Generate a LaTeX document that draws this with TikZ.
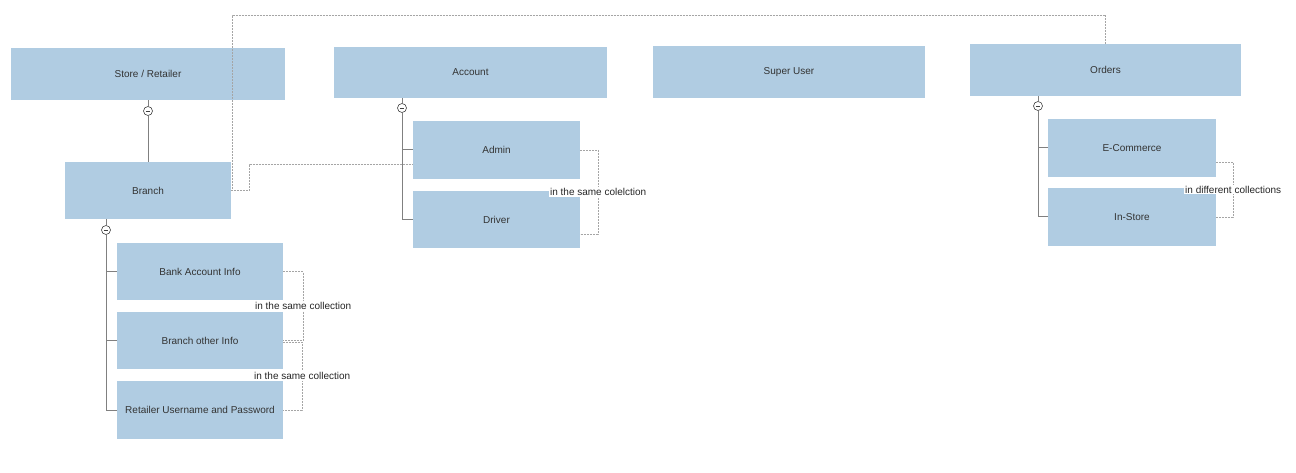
\documentclass[tikz,border=0pt]{standalone}
\usepackage{fontspec}
\setmainfont{Liberation Sans}
\usetikzlibrary{calc}
\definecolor{boxblue}{RGB}{176,204,226}
\definecolor{txt}{RGB}{51,51,51}
\definecolor{treeline}{RGB}{128,128,128}
\definecolor{linkgray}{RGB}{165,165,165}
\begin{document}
\begin{tikzpicture}[x=1pt,y=-1pt,
  box/.style={fill=boxblue,draw=none,inner sep=0pt,text=txt,font=\fontsize{10}{12}\selectfont},
  toggle/.style={circle,draw=black!75,fill=white,line width=0.6pt,minimum size=9pt,inner sep=0pt,
    path picture={\draw[black!75,line width=0.6pt]
      ([xshift=-2.3pt]path picture bounding box.center) -- ([xshift=2.3pt]path picture bounding box.center);}},
  tree/.style={draw=treeline,line width=1pt},
  link/.style={draw=linkgray,line width=0.7pt,dash pattern=on 2pt off 1pt},
  note/.style={fill=white,inner sep=1pt,text=black!85,font=\fontsize{10}{12}\selectfont}]
\useasboundingbox (0,0) rectangle (1296,473);

% top-level entities
\node[box,minimum width=274pt,minimum height=52pt] (store) at (148,74) {Store / Retailer};
\node[box,minimum width=273pt,minimum height=51pt] (account) at (470.5,72.5) {Account};
\node[box,minimum width=272pt,minimum height=52pt] (super) at (789,72) {Super User};
\node[box,minimum width=271pt,minimum height=52pt] (orders) at (1105.5,70) {Orders};

% children
\node[box,minimum width=166pt,minimum height=57pt] (branch) at (148,190.5) {Branch};
\node[box,minimum width=167pt,minimum height=58pt] (admin) at (496.5,150) {Admin};
\node[box,minimum width=167pt,minimum height=57pt] (driver) at (496.5,219.5) {Driver};
\node[box,minimum width=168pt,minimum height=58pt] (ecom) at (1132,148) {E-Commerce};
\node[box,minimum width=168pt,minimum height=58pt] (instore) at (1132,217) {In-Store};
\node[box,minimum width=166pt,minimum height=57pt] (bank) at (200,271.5) {Bank Account Info};
\node[box,minimum width=166pt,minimum height=57pt] (other) at (200,340.5) {Branch other Info};
\node[box,minimum width=166pt,minimum height=58pt] (login) at (200,410) {Retailer Username and Password};

% tree connectors with collapse toggles
\node[toggle] (t1) at (148,111) {};
\draw[tree] (store.south) -- (t1) -- (branch.north);

\node[toggle] (t2) at (106,230) {};
\draw[tree] (branch.south -| t2) -- (t2);
\draw[tree] (t2) |- (login.west);
\draw[tree] (t2 |- bank.west) -- (bank.west);
\draw[tree] (t2 |- other.west) -- (other.west);

\node[toggle] (t3) at (402,108) {};
\draw[tree] (account.south -| t3) -- (t3);
\draw[tree] (t3) |- (driver.west);
\draw[tree] (t3 |- admin.west) -- (admin.west);

\node[toggle] (t4) at (1038,106) {};
\draw[tree] (orders.south -| t4) -- (t4);
\draw[tree] (t4) |- (instore.west);
\draw[tree] (t4 |- ecom.west) -- (ecom.west);

% dashed references
\coordinate (rail) at (0,15);
\draw[link] (branch.east) -- ++(1.5,0) |- (rail -| orders.north) -- (orders.north);
\draw[link] (branch.east) -- ++(18.5,0) |- ([yshift=-14pt]admin.west);

\draw[link] (admin.east) -- ++(18,0) coordinate (a1) |- ([yshift=-14.5pt]driver.east) coordinate (a2);
\draw[link] (bank.east) -- ++(20,0) coordinate (b1) |- (other.east) coordinate (b2);
\draw[link] ([yshift=-1.5pt]other.east) -- ++(19,0) coordinate (c1) |- (login.east) coordinate (c2);
\draw[link] ([yshift=-14pt]ecom.east) -- ++(17,0) coordinate (d1) |- (instore.east) coordinate (d2);

% notes on the brackets
\node[note] (n1) at ($(a1)!0.5!(a1 |- a2)$) {in the same colelction};
\node[note] (n2) at ($(b1)!0.5!(b1 |- b2)$) {in the same collection};
\node[note] (n3) at ($(c1)!0.5!(c1 |- c2)$) {in the same collection};
\node[note] (n4) at ($(d1)!0.5!(d1 |- d2)$) {in different collections};
\end{tikzpicture}
\end{document}
